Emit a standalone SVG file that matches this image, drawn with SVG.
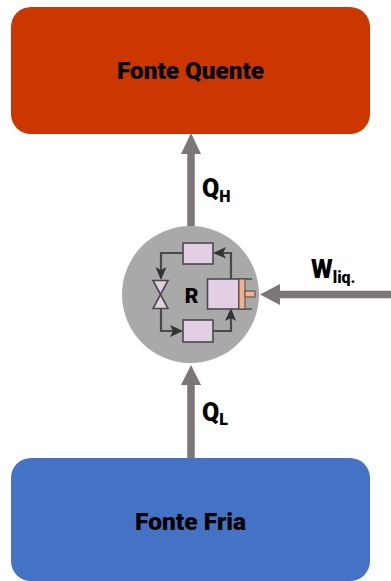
<svg xmlns="http://www.w3.org/2000/svg" width="391" height="581" viewBox="0 0 391 581">
<style>
.t{font-family:"Roboto","Liberation Sans",sans-serif;font-weight:900;fill:#000}
.title{font-size:23px}
.big{font-size:25px}
.sub{font-size:16px}
.a{stroke:#7b7677;stroke-width:7.5;fill:none}
.h{fill:#7b7677}
.w{stroke:#4a4a4a;stroke-width:2.2;fill:none}
.k{fill:#333}
.b{fill:#e2cfe4;stroke:#4a4a4a;stroke-width:1.6}
</style>
<rect width="391" height="581" fill="#fff"/>
<g id="fonte-quente"><rect x="11" y="7" width="359" height="127" rx="20" fill="#cc3600"/><text class="t title" x="117" y="79" textLength="147" lengthAdjust="spacingAndGlyphs">Fonte Quente</text></g>
<g id="fonte-fria"><rect x="11" y="458" width="359" height="123" rx="20" fill="#4472c4"/><text class="t title" x="135" y="530" textLength="111" lengthAdjust="spacingAndGlyphs">Fonte Fria</text></g>
<g id="connectors">
<path class="a" d="M191 226V150"/><path class="h" d="M191 133L201 154H181Z"/>
<path class="a" d="M191 458V382"/><path class="h" d="M191 365L201 385H181Z"/>
<path class="a" d="M391 294.500H278"/><path class="h" d="M260 294.500L280 284V305Z"/>
</g>
<g id="labels">
<text class="t big" x="202" y="197">Q<tspan class="sub" dy="5">H</tspan></text>
<text class="t big" x="202" y="421">Q<tspan class="sub" dy="4">L</tspan></text>
<text class="t big" x="311" y="278">W<tspan class="sub" dy="5">liq.</tspan></text>
</g>
<g id="refrigerador">
<circle cx="190.500" cy="294.500" r="68.500" fill="#a9a9a9"/>
<path class="w" d="M183 253H161V270M161 309V331H173M213 331H231V318M231 279V253H223"/>
<path class="k" d="M155.500 267L161 270L166.500 267L161 280ZM170 325L173 331L170 337L183 331ZM225 321L231 318L236 321L231 308ZM226 247L223 253L226 258.500L213 253Z"/>
<rect class="b" x="183" y="243" width="30" height="21"/>
<rect class="b" x="183" y="320" width="30" height="22"/>
<path class="b" d="M153 280.500H168L153 308.500H168Z"/>
<rect class="b" x="207.500" y="279" width="31.500" height="30"/>
<path d="M239 279H252M239 309H252" stroke="#4a4a4a" stroke-width="1.600"/>
<rect x="239" y="279" width="6" height="30" fill="#f4b18f" stroke="#4a4a4a" stroke-width="1"/>
<rect x="245" y="291" width="10" height="6" fill="#f4b18f" stroke="#4a4a4a" stroke-width="1"/>
<text class="t" x="191.500" y="303" font-size="21" text-anchor="middle">R</text>
</g>
</svg>
